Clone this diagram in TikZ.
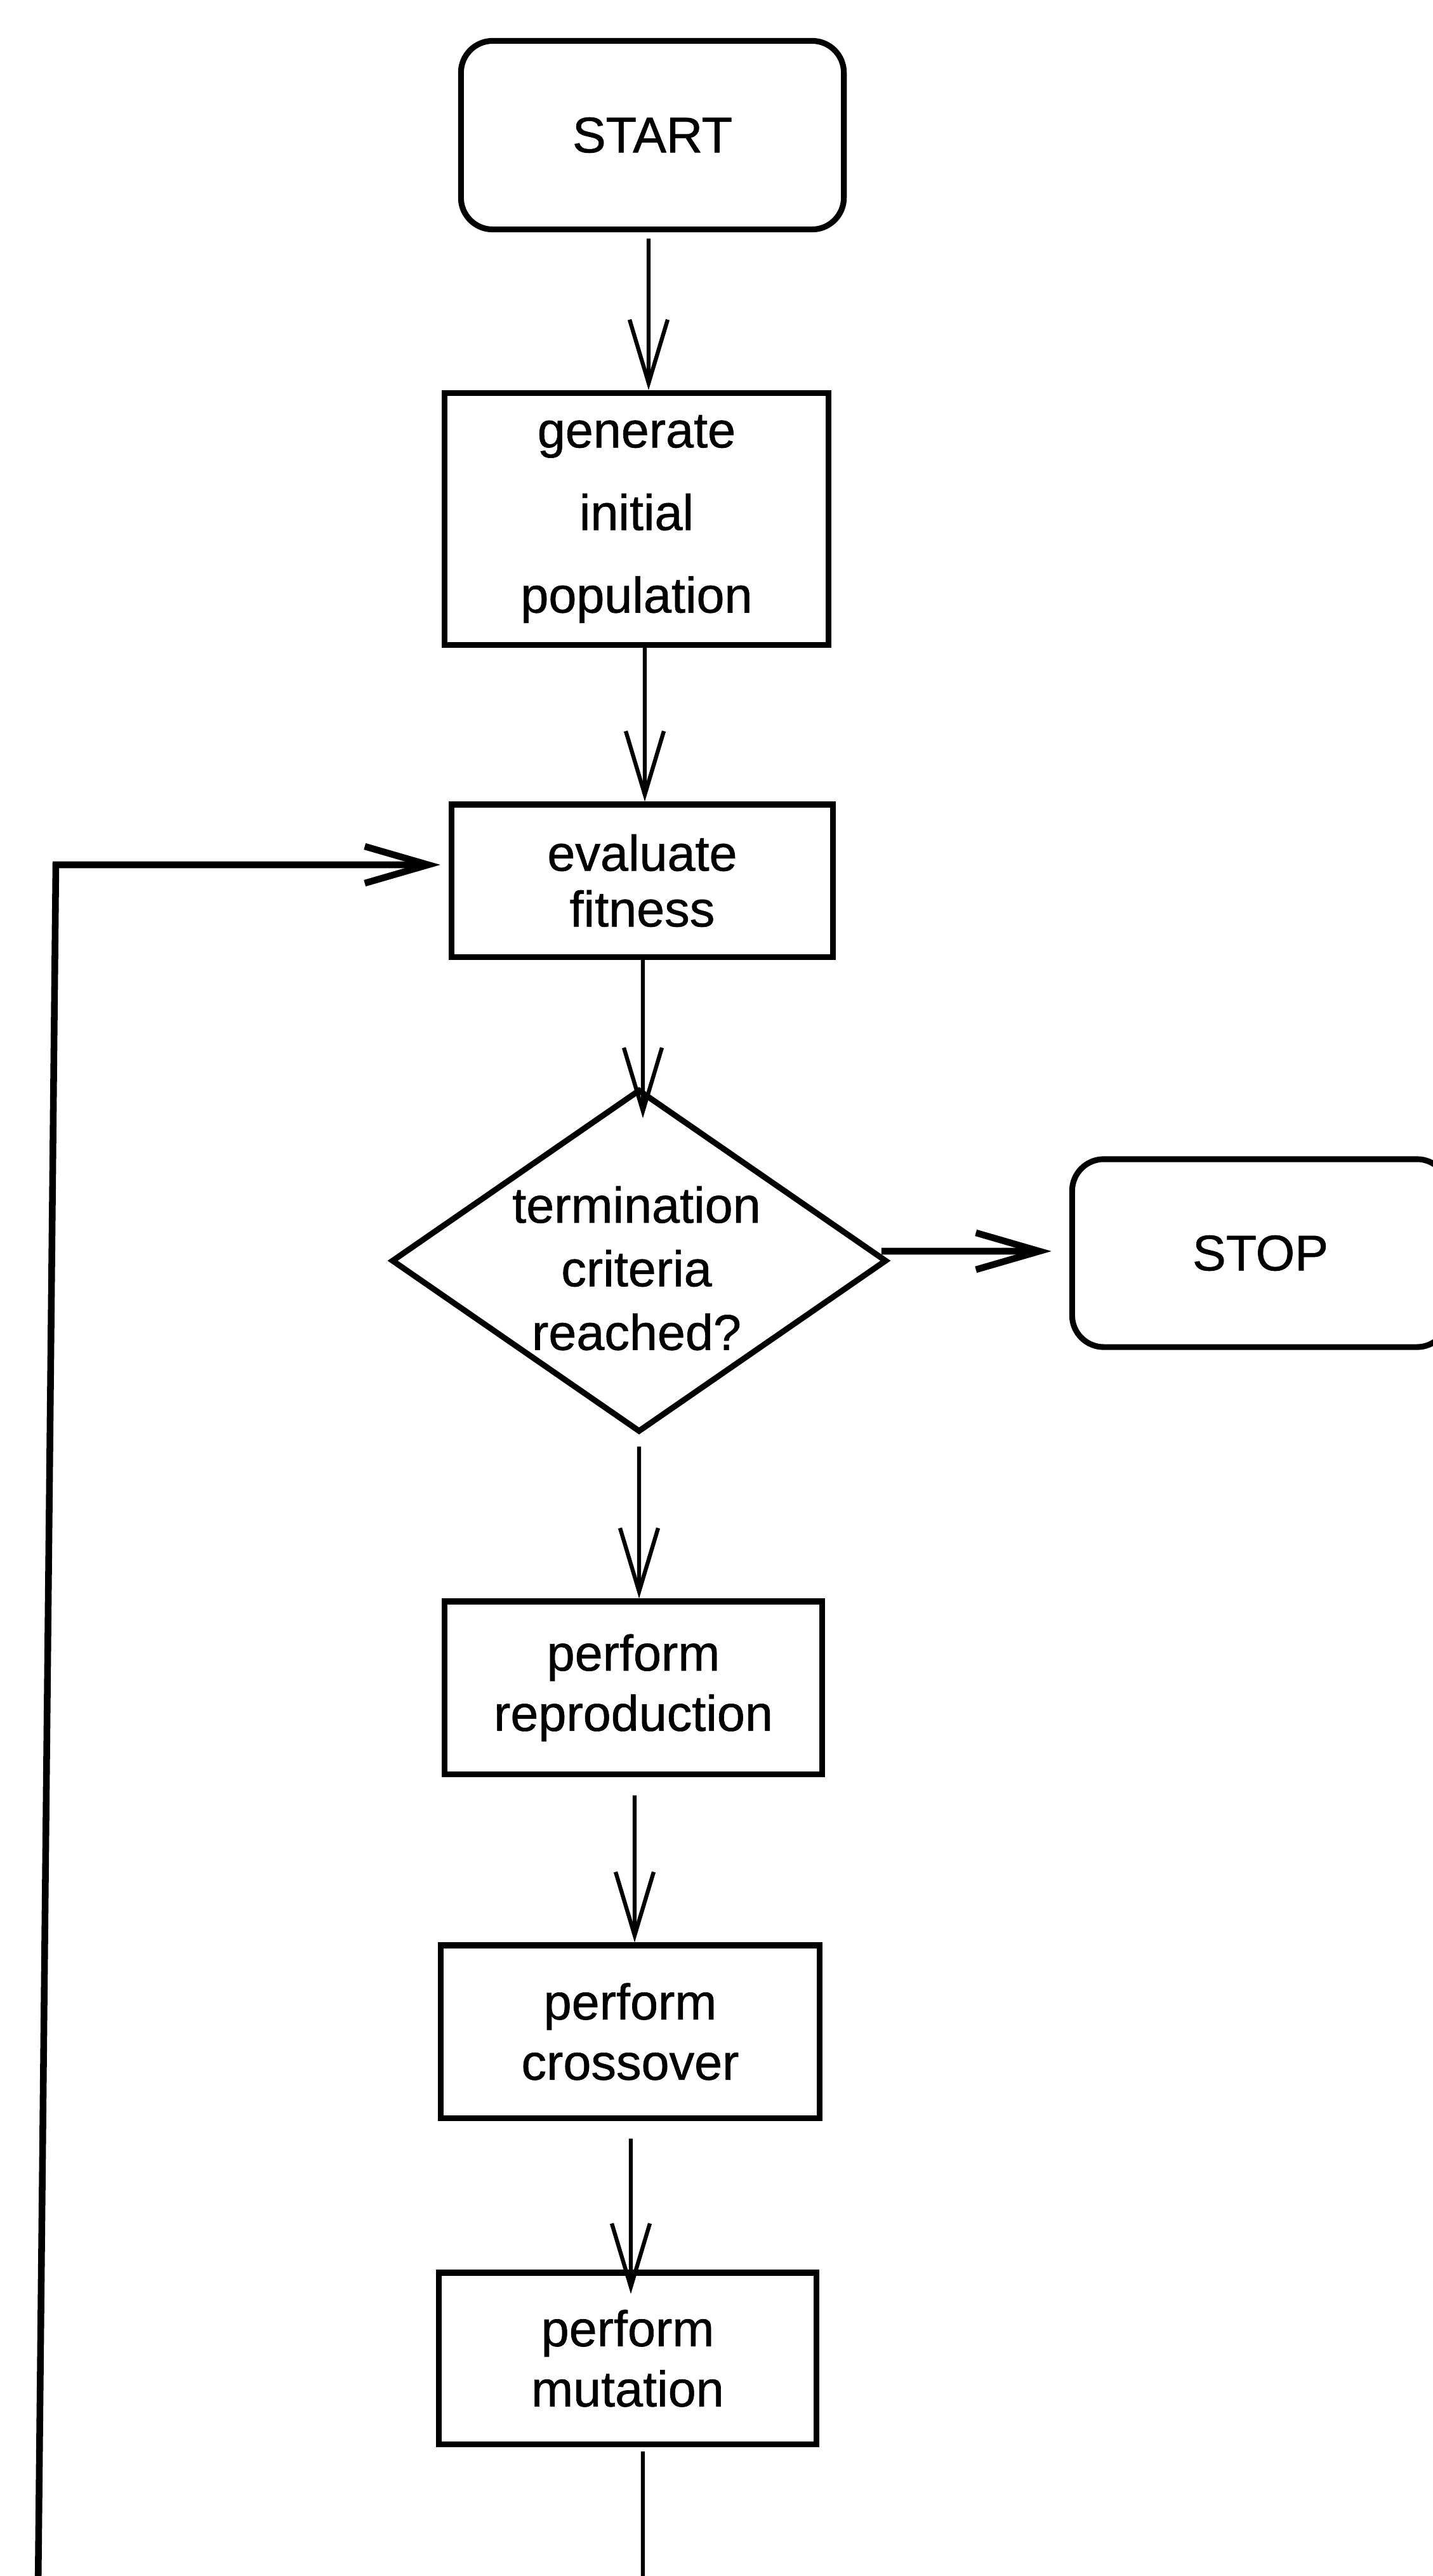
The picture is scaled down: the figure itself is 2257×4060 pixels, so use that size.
\documentclass[tikz,border=0pt]{standalone}
\usepackage{fontspec}
\setmainfont{Liberation Sans}[FakeBold=0.8]
\usetikzlibrary{shapes.geometric,arrows.meta}
\begin{document}
\begin{tikzpicture}[x=0.01cm,y=-0.01cm,
  box/.style={draw, line width=2.6pt, inner sep=0pt, align=center, font=\fontsize{22.5}{27}\selectfont},
  term/.style={box, rounded corners=0.5cm},
  conn/.style={line width=1.8pt, -{Straight Barb[length=1cm,width=0.6cm]}},
  hconn/.style={line width=3pt, -{Straight Barb[length=1cm,width=0.58cm]}},
  plain/.style={line width=1.8pt}
]
\useasboundingbox (0,0) rectangle (2257,4060);

% nodes
\node[term, minimum width=6.03cm, minimum height=2.97cm] (start) at (1028,213) {START};
\node[box, minimum width=6.05cm, minimum height=3.97cm, font=\fontsize{22.5}{37}\selectfont] (gen) at (1003,818) {generate\\initial\\population};
\node[box, minimum width=6.01cm, minimum height=2.40cm, font=\fontsize{22.5}{25}\selectfont] (eval) at (1012,1388) {evaluate\\fitness};
\node[draw, diamond, line width=2.6pt, minimum width=7.8cm, minimum height=5.4cm, inner sep=0pt] (dec) at (1007,1987) {};
\node[align=center, inner sep=0pt, font=\fontsize{22.5}{28.5}\selectfont] (decText) at (1003,1999) {termination\\criteria\\reached?};
\node[term, minimum width=5.93cm, minimum height=2.96cm] (stop) at (1986,1975) {STOP};
\node[box, minimum width=5.94cm, minimum height=2.72cm] (rep) at (998,2660) {perform\\reproduction};
\node[box, minimum width=5.96cm, minimum height=2.72cm] (cross) at (993,3202) {perform\\crossover};
\node[box, minimum width=5.94cm, minimum height=2.70cm] (mut) at (989,3717) {perform\\mutation};

% free ends of the loop
\coordinate (lb) at (60,4080);
\coordinate (lt) at (88,1363);
\coordinate (mb) at (1013,4080);

% connectors
\draw[conn] ([xshift=-0.06cm,yshift=-0.10cm]start.south) -- ([xshift=0.19cm]gen.north);
\draw[conn] ([xshift=0.13cm]gen.south) -- ([xshift=0.04cm]eval.north);
\draw[conn] ([xshift=0.01cm]eval.south) -- ([xshift=0.06cm,yshift=-0.5cm]dec.north);
\draw[hconn] ([xshift=-0.13cm,yshift=0.15cm]dec.east) -- ([xshift=-0.28cm,yshift=0.03cm]stop.west);
\draw[conn] ([yshift=-0.18cm]dec.south) -- ([xshift=0.09cm]rep.north);
\draw[conn] ([xshift=0.02cm,yshift=-0.29cm]rep.south) -- ([xshift=0.07cm]cross.north);
\draw[conn] ([xshift=0.01cm,yshift=-0.28cm]cross.south) -- ([xshift=0.05cm,yshift=-0.38cm]mut.north);
\draw[plain] ([xshift=0.24cm,yshift=-0.07cm]mut.south) -- (mb);
\draw[hconn] (lb) -- (lt) -- ([xshift=-0.13cm,yshift=0.25cm]eval.west);
\end{tikzpicture}
\end{document}
